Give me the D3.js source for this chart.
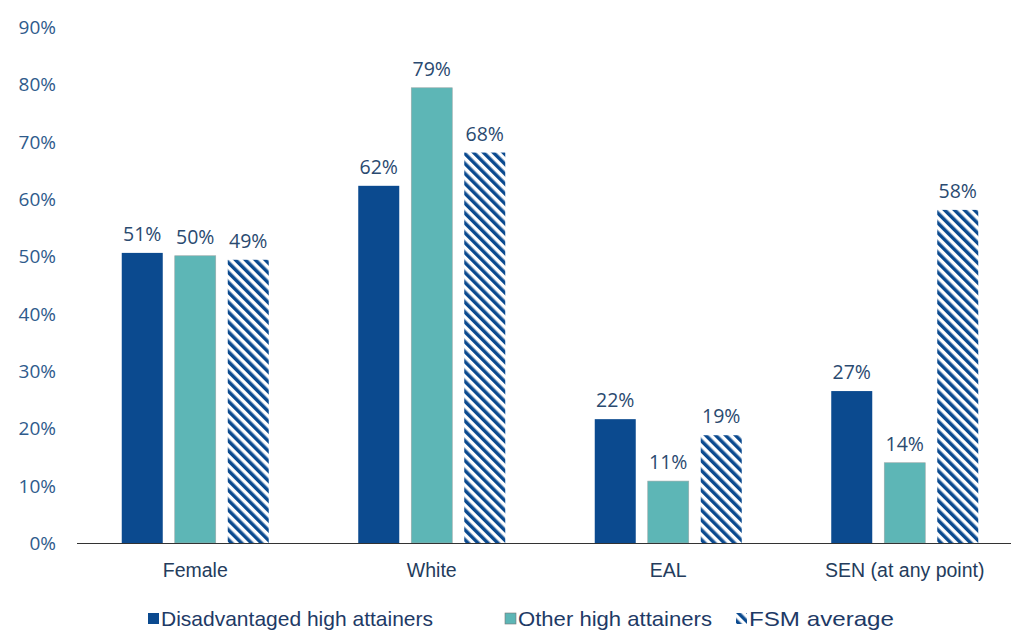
<!DOCTYPE html>
<meta charset="utf-8">
<style>
body { margin: 0; background: #fff; }
.tick text { font: 19px "Open Sans", sans-serif; fill: #2f5b8c; }
.lbl { font: 19.5px "Open Sans", sans-serif; fill: #2a4a70; }
.legend text { font: 21px "Liberation Sans", sans-serif; fill: #1e3a66; }
</style>
<svg width="1011" height="630"></svg>
<script src="https://d3js.org/d3.v7.min.js"></script>
<script>

var categories = ["Female", "White", "EAL", "SEN (at any point)"];
var seriesNames = ["Disadvantaged high attainers", "Other high attainers", "FSM average"];
var disadvantaged = [50.6, 62.3, 21.6, 26.5];
var otherHigh = [50.1, 79.4, 10.8, 14.0];
var fsmAverage = [49.4, 68.1, 18.8, 58.1];
var yTicks = [0, 10, 20, 30, 40, 50, 60, 70, 80, 90];

var series = [disadvantaged, otherHigh, fsmAverage];
var colors = ["#0b4a8f", "#5db6b6", "url(#hatch)"];

var svg = d3.select("svg");
var margin = {left: 77, top: 27, bottom: 543};

var defs = svg.append("defs");
var pat = defs.append("pattern")
    .attr("id", "hatch")
    .attr("patternUnits", "userSpaceOnUse")
    .attr("width", 7).attr("height", 7)
    .attr("patternTransform", "rotate(-45)");
pat.append("rect").attr("width", 7).attr("height", 7).attr("fill", "#fff");
pat.append("rect").attr("width", 3.5).attr("height", 7).attr("fill", "#0b4a8f");

var x = d3.scaleBand()
    .domain(categories)
    .range([margin.left, margin.left + 4 * 236.5]);

var xs = d3.scaleBand()
    .domain(d3.range(3))
    .range([0, 3 * 53 - 12])
    .paddingInner(12 / 53);

var y = d3.scaleLinear()
    .domain([0, 90])
    .range([margin.bottom, margin.top]);

// y axis labels only
var yAxis = svg.append("g")
    .attr("transform", "translate(56,0)")
    .call(d3.axisLeft(y).tickValues(yTicks).tickSize(0).tickPadding(0).tickFormat(function(d) { return d + "%"; }));
yAxis.select(".domain").remove();
yAxis.selectAll("text").attr("dy", "0.35em");

var groups = svg.append("g").selectAll("g")
  .data(categories)
  .enter().append("g")
    .attr("transform", function(d) { return "translate(" + (x(d) + x.bandwidth() / 2 - xs.range()[1] / 2) + ",0)"; });

groups.each(function(cat, ci) {
  var g = d3.select(this);
  series.forEach(function(s, si) {
    var v = s[ci];
    g.append("rect")
      .attr("x", xs(si))
      .attr("y", y(v))
      .attr("width", xs.bandwidth())
      .attr("height", y(0) - y(v))
      .attr("fill", colors[si])
      .attr("stroke", si == 1 ? "#9aa8a8" : "none")
      .attr("stroke-width", 0.6);
    g.append("text")
      .attr("class", "lbl")
      .attr("x", xs(si) + xs.bandwidth() / 2)
      .attr("y", y(v) - 12)
      .attr("text-anchor", "middle")
      .text(Math.round(v) + "%");
  });
});

// baseline
svg.append("line")
    .attr("x1", margin.left).attr("x2", 1011)
    .attr("y1", y(0) + 0.5).attr("y2", y(0) + 0.5)
    .attr("stroke", "#333").attr("stroke-width", 1.2);

var xAxis = svg.append("g")
    .attr("transform", "translate(0," + y(0) + ")")
    .call(d3.axisBottom(x).tickSize(0).tickPadding(20));
xAxis.select(".domain").remove();
xAxis.selectAll("text")
    .style("font", "19.5px 'Liberation Sans', sans-serif")
    .style("fill", "#243c5c");

// legend
var legendX = [148, 505, 736];
var legendW = [272, 194, 145];
var legend = svg.append("g").attr("class", "legend");
seriesNames.forEach(function(name, i) {
  var lg = legend.append("g").attr("transform", "translate(" + legendX[i] + ",613)");
  lg.append("rect")
    .attr("x", 0).attr("y", 0).attr("width", 11).attr("height", 11)
    .attr("fill", i == 2 ? "url(#hatch)" : colors[i])
    .attr("stroke", i == 1 ? "#777" : "none").attr("stroke-width", 0.6);
  lg.append("text")
    .attr("x", 13).attr("y", 13)
    .attr("textLength", legendW[i])
    .attr("lengthAdjust", "spacingAndGlyphs")
    .text(name);
});

</script>
